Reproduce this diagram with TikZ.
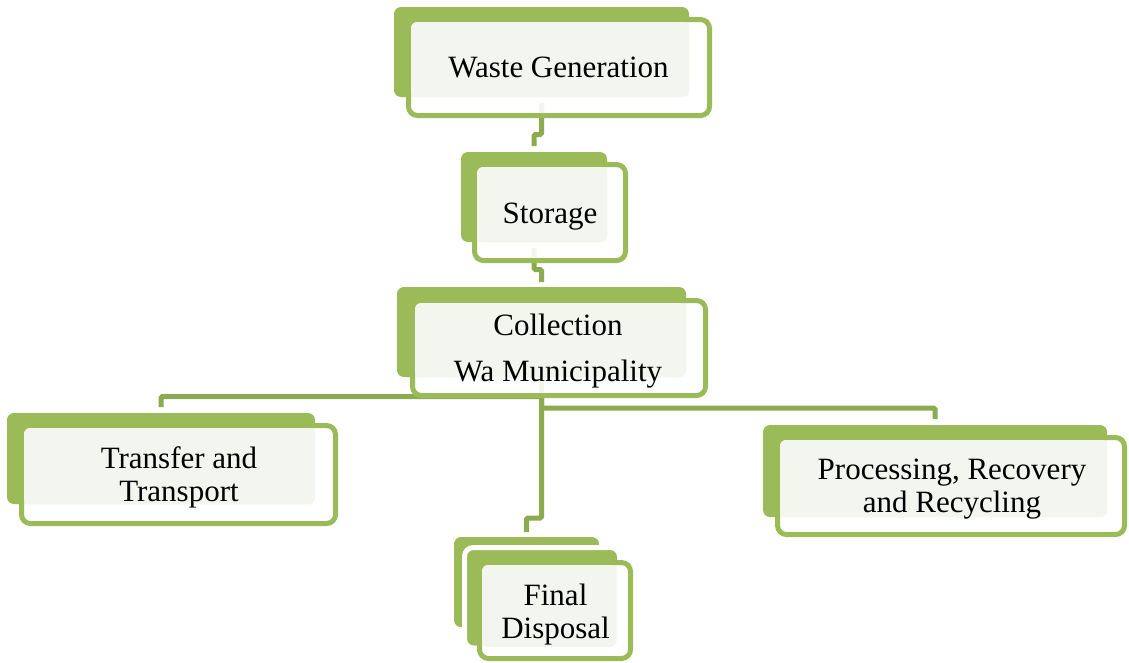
\documentclass[tikz,border=0pt]{standalone}
\usepackage{fontspec}
\setmainfont{Liberation Serif}
\usetikzlibrary{backgrounds}
\definecolor{boxgreen}{HTML}{9BBB59}
\definecolor{lightgreen}{HTML}{F3F6EE}
\definecolor{conngreen}{HTML}{8CAB50}
\begin{document}
\begin{tikzpicture}[x=1pt,y=-1pt,
  back/.style={fill=boxgreen, draw=none, rounded corners=7pt, inner sep=0pt, outer sep=0pt},
  front/.style={draw=boxgreen, line width=5pt, fill=white, fill opacity=0.9, rounded corners=9pt, inner sep=0pt, outer sep=0pt},
  lite/.style={fill=lightgreen, draw=none, rounded corners=6pt, inner sep=0pt, outer sep=0pt},
  midbox/.style={fill=boxgreen, draw=white, line width=5pt, rounded corners=9pt, inner sep=0pt, outer sep=0pt},
  conn/.style={draw=conngreen, line width=5pt, rounded corners=1.5pt},
  label/.style={font=\fontsize{31}{32.5}\selectfont, inner sep=0pt, align=center, text=black}]
\useasboundingbox (0,0) rectangle (1129,662);

% Waste Generation
\node[back, minimum width=295pt, minimum height=90pt] (wgB) at (541.5,52) {};
\node[front, minimum width=301pt, minimum height=96pt] (wgF) at (559,67.5) {};
\node[lite, minimum width=278pt, minimum height=75pt] (wgL) at (550,59.5) {};
\node[label, anchor=base] (wgT) at (558.5,77) {Waste Generation};

% Storage
\node[back, minimum width=146pt, minimum height=90pt] (stB) at (534,197) {};
\node[front, minimum width=151pt, minimum height=96pt] (stF) at (550,212.5) {};
\node[lite, minimum width=130pt, minimum height=75pt] (stL) at (542,204.5) {};
\node[label, anchor=base] (stT) at (550,223) {Storage};

% Collection
\node[back, minimum width=289pt, minimum height=90pt] (coB) at (541.5,332) {};
\node[front, minimum width=293pt, minimum height=95pt] (coF) at (559,348) {};
\node[lite, minimum width=271pt, minimum height=74pt] (coL) at (550.5,340) {};
\node[label, anchor=north, font=\fontsize{31}{46}\selectfont] (coT) at (558,313.8) {Collection\\Wa Municipality};

% Transfer and Transport
\node[back, minimum width=308pt, minimum height=91pt] (trB) at (161,458.5) {};
\node[front, minimum width=314pt, minimum height=98pt] (trF) at (178.5,474.5) {};
\node[lite, minimum width=291pt, minimum height=76pt] (trL) at (169.5,466) {};
\node[label, anchor=north] (trT) at (179,446.8) {Transfer and\\Transport};

% Processing, Recovery and Recycling
\node[back, minimum width=344pt, minimum height=92pt] (prB) at (935,471) {};
\node[front, minimum width=347pt, minimum height=97pt] (prF) at (951,486) {};
\node[lite, minimum width=327pt, minimum height=77pt] (prL) at (943.5,478.5) {};
\node[label, anchor=north] (prT) at (952,458.8) {Processing, Recovery\\and Recycling};

% Final Disposal
\node[back, minimum width=145pt, minimum height=90pt] (fdB) at (526.5,582) {};
\node[midbox, minimum width=155pt, minimum height=100.5pt] (fdM) at (542,597.75) {};
\node[front, minimum width=151pt, minimum height=96pt] (fdF) at (555,610.5) {};
\node[lite, minimum width=134pt, minimum height=82pt] (fdL) at (549,606) {};
\node[label, anchor=north] (fdT) at (555.5,583.8) {Final\\Disposal};

% Connectors
\begin{pgfonlayer}{background}
\fill[white] (0,0) rectangle (1129,662);
\draw[conn] ([yshift=-6pt]wgB.south) -- ([yshift=-37.5pt]wgB.south) -| ([yshift=6pt]stB.north);
\draw[conn] ([yshift=-6pt]stB.south) -- ([yshift=-27.5pt]stB.south) -| ([yshift=5pt]coB.north);
\draw[conn] ([yshift=-3pt]coB.south) -- ([yshift=-19.5pt]coB.south) -| ([yshift=6pt]trB.north);
\draw[conn] ([yshift=-3pt]coB.south) -- ([yshift=-31pt]coB.south) -| ([yshift=6pt]prB.north);
\draw[conn] ([yshift=-3pt]coB.south) -- ([yshift=-141pt]coB.south) -| ([yshift=5pt]fdB.north);
\end{pgfonlayer}
\end{tikzpicture}
\end{document}
